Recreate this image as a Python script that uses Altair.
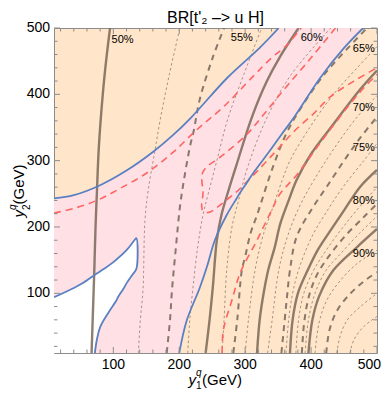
import altair as alt
import pandas as pd

# ---------------- data ----------------
title_text = "BR[t'\u2082 \u2013> u H]"

x_ticks_major = [100, 200, 300, 400, 500]
y_ticks_major = [100, 200, 300, 400, 500]
ticks_minor = [20, 40, 60, 80, 120, 140, 160, 180, 220, 240, 260, 280,
               320, 340, 360, 380, 420, 440, 460, 480]

# pink band between the two blue boundaries (rows of equal y2)
band_y = [10, 58, 108, 140, 180, 218, 243, 248, 263, 285, 313, 338, 365, 425, 470, 500]
band_xl = [10, 10, 10, 10, 10, 10, 10, 40, 80, 120, 160, 190, 218, 273, 322, 351]
band_xr = [200, 211, 231, 242, 254, 272, 287, 290, 300, 315, 336, 354, 374, 414, 450, 479]

# white excluded pocket in the lower left
white_y = [10, 30, 49, 70, 90, 94, 108, 115, 128, 137, 147, 165, 180, 183]
white_xl = [10, 10, 10, 10, 10, 10, 40, 53, 72, 86, 100, 120, 132, 135]
white_xr = [72, 75, 80, 92, 105, 107, 116, 120, 129, 135, 135, 135, 135, 135]

# BR contours: solid (every 10 %)
s50 = [(67, 10), (69, 70), (71, 130), (73, 200), (75, 250), (78, 320), (84, 400), (89, 450), (95, 500)]
s60 = [(240, 10), (246, 60), (251, 110), (257, 180), (264, 218), (275, 256), (287, 294),
       (310, 365), (333, 420), (353, 457), (381, 500)]
s70 = [(318, 10), (322, 60), (328, 100), (335, 135), (345, 170), (353, 204), (366, 240),
       (378, 271), (400, 310), (430, 350), (474, 407), (500, 436)]
s80 = [(368, 10), (372, 60), (380, 100), (395, 135), (410, 165), (429, 194), (450, 225),
       (474, 260), (500, 286)]
s90 = [(396, 10), (402, 60), (412, 95), (434, 135), (469, 169), (500, 197)]

# BR contours: dashed (55, 65, 75, 85, 95 %)
d55 = [(181, 10), (186, 60), (189, 105), (195, 170), (201, 230), (207, 270), (216, 320),
       (222, 345), (231, 392), (251, 456), (268, 500)]
d65 = [(282, 10), (288, 60), (295, 135), (300, 155), (308, 190), (318, 218), (343, 293),
       (363, 342), (383, 377), (420, 430), (485, 500)]
d75 = [(355, 10), (360, 60), (364, 100), (368, 135), (378, 185), (403, 230), (424, 261),
       (450, 300), (475, 335), (500, 366)]
d85 = [(386, 10), (390, 60), (398, 100), (410, 130), (430, 160), (455, 190), (480, 215), (500, 235)]
d95 = [(423, 10), (428, 45), (440, 75), (460, 100), (480, 118), (500, 132)]

# BR contours: thin dotted (intermediate levels)
t52 = [(138, 10), (141, 60), (145, 105), (148, 210), (153, 256), (163, 314), (171, 361),
       (185, 430), (201, 500)]
t57 = [(213, 10), (216, 60), (221, 110), (228, 170), (236, 218), (244, 250), (257, 300),
       (274, 364), (298, 430), (325, 500)]
t62 = [(265, 10), (268, 60), (272, 135), (280, 200), (290, 240), (305, 294), (335, 369),
       (370, 430), (430, 500)]
t67 = [(300, 10), (305, 60), (315, 135), (328, 190), (338, 218), (356, 270), (368, 300),
       (398, 350), (434, 400), (470, 440), (500, 472)]
t72 = [(334, 10), (341, 60), (351, 135), (364, 185), (382, 230), (404, 270), (436, 320),
       (470, 366), (500, 398)]
t77 = [(362, 10), (366, 60), (372, 100), (381, 135), (401, 185), (428, 230), (449, 261),
       (480, 300), (500, 326)]
t82 = [(377, 10), (381, 60), (389, 100), (404, 135), (423, 165), (444, 194), (469, 225), (500, 260)]
t87 = [(391, 10), (396, 60), (406, 100), (423, 135), (445, 160), (473, 190), (500, 216)]
t92 = [(406, 10), (412, 55), (424, 90), (445, 120), (470, 145), (500, 165)]
t97 = [(439, 10), (444, 35), (455, 60), (475, 80), (500, 100)]
t99 = [(459, 10), (465, 30), (480, 50), (500, 65)]

# red dashed contours
r1 = [(10, 221), (40, 228), (75, 240), (110, 258), (150, 281), (190, 312), (226, 346),
      (267, 381), (312, 427), (340, 455), (363, 474), (385, 500)]
r2 = [(437, 500), (400, 455), (363, 412), (330, 372), (302, 339), (267, 309), (236, 283),
      (236, 250), (234, 232), (236, 224), (245, 222), (258, 230), (272, 241), (287, 253),
      (323, 289), (350, 318), (375, 345), (405, 372), (430, 397), (465, 420), (500, 440)]
r3 = [(265, 10), (267, 45), (280, 90), (293, 132), (318, 180), (340, 225), (353, 250),
      (378, 278), (420, 335), (472, 401), (500, 430)]

# contour labels
label_text = ["50%", "55%", "60%", "65%", "70%", "75%", "80%", "90%"]
label_x = [114, 295, 401, 480, 480, 480, 480, 480]
label_y = [482, 485, 485, 469, 379, 319, 239, 160]

# ---------------- build tables ----------------
W, H = 323, 325
xs = alt.Scale(domain=[10, 500], nice=False, zero=False)
ys = alt.Scale(domain=[10, 500], nice=False, zero=False)

ORANGE = "#FFE5C9"
PINK = "#FFE1E5"
FONT = "Liberation Sans"


def to_df(lines):
    rows = []
    for name, pts in lines.items():
        for i, (a, b) in enumerate(pts):
            rows.append({"id": name, "i": i, "x": a, "y": b})
    return pd.DataFrame(rows)


band_df = pd.DataFrame({"y": band_y, "xl": band_xl, "xr": band_xr})
white_df = pd.DataFrame({"y": white_y, "xl": white_xl, "xr": white_xr})

blue_upper = [(a, b) for a, b in zip(band_xl, band_y) if b >= 243]
blue_lower = list(zip(band_xr, band_y))
white_edge = [(a, b) for a, b in zip(white_xl, white_y) if b >= 94] + \
             [(a, b) for a, b in reversed(list(zip(white_xr, white_y))) if b <= 137]

solid_df = to_df({"s50": s50, "s60": s60, "s70": s70, "s80": s80, "s90": s90})
dashed_df = to_df({"d55": d55, "d65": d65, "d75": d75, "d85": d85, "d95": d95})
dotted_df = to_df({"t52": t52, "t57": t57, "t62": t62, "t67": t67, "t72": t72,
                   "t77": t77, "t82": t82, "t87": t87, "t92": t92, "t97": t97, "t99": t99})
red_df = to_df({"r1": r1, "r2": r2, "r3": r3})
blue_df = to_df({"bu": blue_upper, "bl": blue_lower, "bw": white_edge})
lab_df = pd.DataFrame({"t": label_text, "x": label_x, "y": label_y})

band = alt.Chart(band_df).mark_area(orient="horizontal", interpolate="catmull-rom",
                                    color=PINK, clip=True).encode(
    y=alt.Y("y:Q", scale=ys, axis=None),
    x=alt.X("xl:Q", scale=xs, axis=None),
    x2="xr:Q",
)
white = alt.Chart(white_df).mark_area(orient="horizontal", interpolate="catmull-rom",
                                      color="#FFFFFF", clip=True).encode(
    y=alt.Y("y:Q", scale=ys, axis=None),
    x=alt.X("xl:Q", scale=xs, axis=None),
    x2="xr:Q",
)


def line_layer(df, **style):
    return alt.Chart(df).mark_line(interpolate="catmull-rom", clip=True, **style).encode(
        x=alt.X("x:Q", scale=xs, axis=None),
        y=alt.Y("y:Q", scale=ys, axis=None),
        detail="id:N",
        order="i:Q",
    )


dotted = line_layer(dotted_df, color="#8f7e70", strokeWidth=0.9, strokeDash=[2.5, 2.5], opacity=0.9)
dashed = line_layer(dashed_df, color="#7b6b5e", strokeWidth=2, strokeDash=[6, 5], opacity=0.9)
solid = line_layer(solid_df, color="#7a6757", strokeWidth=2.4, opacity=0.85)
red = line_layer(red_df, color="#FF6464", strokeWidth=1.6, strokeDash=[7, 5])
blue = line_layer(blue_df, color="#5b80c2", strokeWidth=1.8)

labels = alt.Chart(lab_df).mark_text(font=FONT, fontSize=11, color="#000000").encode(
    x=alt.X("x:Q", scale=xs, axis=None),
    y=alt.Y("y:Q", scale=ys, axis=None),
    text="t:N",
)

# inward frame ticks
TICK_COLOR = "#8c8c8c"
maj_x = pd.DataFrame({"t": x_ticks_major})
maj_y = pd.DataFrame({"t": y_ticks_major})
mins = pd.DataFrame({"t": ticks_minor})


def xticks(df, y0, y1):
    return alt.Chart(df).mark_rule(color=TICK_COLOR, strokeWidth=1).encode(
        x=alt.X("t:Q", scale=xs, axis=None), y=alt.value(y0), y2=alt.value(y1))


def yticks(df, x0, x1):
    return alt.Chart(df).mark_rule(color=TICK_COLOR, strokeWidth=1).encode(
        y=alt.Y("t:Q", scale=ys, axis=None), x=alt.value(x0), x2=alt.value(x1))


tick_layers = [
    xticks(maj_x, H, H - 6), xticks(mins, H, H - 3.5),
    xticks(maj_x, 0, 6), xticks(mins, 0, 3.5),
    yticks(maj_y, 0, 6), yticks(mins, 0, 3.5),
    yticks(maj_y, W, W - 6), yticks(mins, W, W - 3.5),
]

# tick labels (the last x label is right-aligned so it stays inside the page)
xl_inner = pd.DataFrame({"t": x_ticks_major[:-1]})
xl_last = pd.DataFrame({"t": x_ticks_major[-1:]})
xlab = alt.Chart(xl_inner).mark_text(font=FONT, fontSize=14, color="#000000",
                                     baseline="top", align="center").encode(
    x=alt.X("t:Q", scale=xs, axis=None), y=alt.value(H + 5), text="t:Q")
xlab_last = alt.Chart(xl_last).mark_text(font=FONT, fontSize=14, color="#000000",
                                         baseline="top", align="right", dx=4).encode(
    x=alt.X("t:Q", scale=xs, axis=None), y=alt.value(H + 5), text="t:Q")
ylab = alt.Chart(maj_y).mark_text(font=FONT, fontSize=14, color="#000000",
                                  baseline="middle", align="right").encode(
    y=alt.Y("t:Q", scale=ys, axis=None), x=alt.value(-4), text="t:Q")

# title and axis titles as text
one = pd.DataFrame({"a": [0]})


def txt(s, x, y, size=15, align="left", angle=0, style="normal", baseline="alphabetic"):
    return alt.Chart(one).mark_text(text=s, font=FONT, fontSize=size, align=align,
                                    angle=angle, fontStyle=style, baseline=baseline,
                                    color="#000000").encode(x=alt.value(x), y=alt.value(y))


text_layers = [
    txt(title_text, 161.5, -5, size=16, align="center"),
    # x title: y_1^q(GeV)
    txt("y", 134.5, 357, style="italic"),
    txt("q", 142, 348, size=10, style="italic"),
    txt("1", 142, 361, size=10),
    txt("(GeV)", 148, 357),
    # y title: y_2^q(GeV), rotated
    txt("y", -30, 189.5, angle=270, style="italic"),
    txt("q", -38, 182, size=10, angle=270, style="italic"),
    txt("2", -24, 182, size=10, angle=270),
    txt("(GeV)", -30, 176.5, angle=270),
]

chart = alt.layer(
    band, white, dotted, dashed, solid, red, blue, labels, *tick_layers, xlab, xlab_last,
    ylab, *text_layers
).properties(
    width=W, height=H,
    autosize=alt.AutoSizeParams(type="none"),
    padding={"left": 46, "top": 20, "right": 5, "bottom": 38},
).configure_view(fill=ORANGE, stroke="#8c8c8c", strokeWidth=1)

chart.save("out.html", embed_options={"renderer": "svg", "actions": False})
